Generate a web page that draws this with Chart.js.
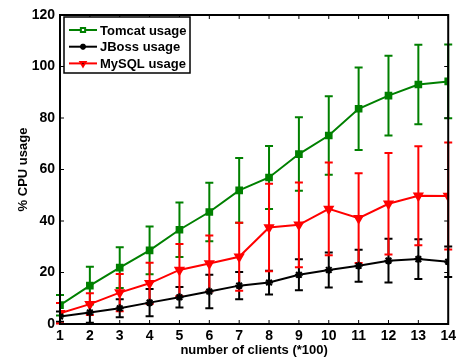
<!DOCTYPE html>
<html lang="en">
<head>
  <meta charset="UTF-8">
  <title>CPU usage vs number of clients</title>
  <script src="https://cdn.jsdelivr.net/npm/chart.js"></script>
  <style>
    html, body { margin: 0; padding: 0; background: #fff; }
  </style>
</head>
<body>
  <canvas id="cpuChart" width="460" height="358"></canvas>

  <script>
    // x values (number of clients, *100)
    const clients = [1, 2, 3, 4, 5, 6, 7, 8, 9, 10, 11, 12, 13, 14];

    // mean CPU usage (%) and error bar half-widths
    const tomcatUsage = [7.3, 14.9, 21.9, 28.6, 36.6, 43.5, 51.9, 56.9, 66.0, 73.2, 83.6, 88.7, 93.0, 94.2];
    const tomcatErr   = [4.0, 7.3, 7.9, 9.3, 10.6, 11.4, 12.6, 12.2, 14.3, 15.2, 16.0, 15.5, 15.4, 14.3];

    const jbossUsage  = [2.9, 4.5, 6.1, 8.3, 10.4, 12.6, 14.9, 16.1, 19.1, 21.0, 22.6, 24.6, 25.2, 24.2];
    const jbossErr    = [2.0, 4.0, 3.5, 5.3, 4.0, 6.5, 5.3, 4.6, 6.0, 6.8, 6.2, 8.5, 7.7, 5.9];

    const mysqlUsage  = [4.2, 7.7, 12.2, 15.8, 21.0, 23.5, 26.1, 37.5, 38.5, 44.7, 41.1, 46.7, 49.8, 49.7];
    const mysqlErr    = [4.0, 4.2, 7.2, 8.0, 10.1, 10.9, 13.2, 17.0, 16.5, 18.0, 17.4, 19.7, 19.2, 20.8];

    const yTicks = [0, 20, 40, 60, 80, 100, 120];

    const FONT = '"Liberation Sans", Arial, sans-serif';

    function points(values) {
      return clients.map((c, i) => ({ x: c, y: values[i] }));
    }

    // draws error bars, the boxed frame with inward ticks, and the legend
    const matlabStyle = {
      id: 'matlabStyle',
      beforeDatasetsDraw(chart) {
        const ctx = chart.ctx;
        const xs = chart.scales.x, ys = chart.scales.y;
        ctx.save();
        chart.data.datasets.forEach(ds => {
          ctx.strokeStyle = ds.borderColor;
          ctx.lineWidth = 2;
          ds.data.forEach((p, i) => {
            const e = ds.errors[i];
            const px = xs.getPixelForValue(p.x);
            const top = ys.getPixelForValue(p.y + e);
            const bot = ys.getPixelForValue(Math.max(p.y - e, 0));
            ctx.beginPath();
            ctx.moveTo(px, top); ctx.lineTo(px, bot);
            ctx.moveTo(px - 4, top); ctx.lineTo(px + 4, top);
            if (p.y - e > 0) { ctx.moveTo(px - 4, bot); ctx.lineTo(px + 4, bot); }
            ctx.stroke();
          });
        });
        ctx.restore();
      },
      afterDatasetsDraw(chart) {
        const ctx = chart.ctx;
        const a = chart.chartArea;
        const xs = chart.scales.x, ys = chart.scales.y;
        ctx.save();
        ctx.strokeStyle = '#000';
        ctx.lineWidth = 2;
        ctx.strokeRect(a.left, a.top, a.right - a.left, a.bottom - a.top);

        // inward ticks on all four sides
        ctx.lineWidth = 1;
        ctx.beginPath();
        clients.forEach(c => {
          const px = xs.getPixelForValue(c);
          ctx.moveTo(px, a.bottom); ctx.lineTo(px, a.bottom - 4);
          ctx.moveTo(px, a.top); ctx.lineTo(px, a.top + 4);
        });
        yTicks.forEach(v => {
          const py = ys.getPixelForValue(v);
          ctx.moveTo(a.left, py); ctx.lineTo(a.left + 4, py);
          ctx.moveTo(a.right, py); ctx.lineTo(a.right - 4, py);
        });
        ctx.stroke();

        // legend box
        const lx = a.left + 4, ly = a.top + 2, lw = 126, lh = 56;
        ctx.fillStyle = '#fff';
        ctx.fillRect(lx, ly, lw, lh);
        ctx.lineWidth = 1.5;
        ctx.strokeRect(lx, ly, lw, lh);

        chart.data.datasets.forEach((ds, i) => {
          const ry = ly + 13 + i * 16.7;
          ctx.strokeStyle = ds.borderColor;
          ctx.lineWidth = 2;
          ctx.beginPath();
          ctx.moveTo(lx + 5, ry); ctx.lineTo(lx + 33, ry);
          ctx.stroke();
          Chart.helpers.drawPoint(ctx, {
            pointStyle: ds.pointStyle,
            radius: 3,
            rotation: ds.pointRotation || 0,
            borderWidth: 1.5
          }, lx + 19, ry);
          ctx.fillStyle = '#000';
          ctx.font = 'bold 13px ' + FONT;
          ctx.textBaseline = 'middle';
          ctx.fillText(ds.label, lx + 36, ry + 1);
        });
        ctx.restore();
      }
    };

    new Chart(document.getElementById('cpuChart'), {
      type: 'line',
      data: {
        datasets: [
          {
            label: 'Tomcat usage',
            data: points(tomcatUsage),
            errors: tomcatErr,
            borderColor: '#008000',
            backgroundColor: '#008000',
            pointStyle: 'rect',
            pointRadius: 4,
            borderWidth: 2
          },
          {
            label: 'JBoss usage',
            data: points(jbossUsage),
            errors: jbossErr,
            borderColor: '#000000',
            backgroundColor: '#000000',
            pointStyle: 'star',
            pointRadius: 4,
            borderWidth: 2
          },
          {
            label: 'MySQL usage',
            data: points(mysqlUsage),
            errors: mysqlErr,
            borderColor: '#ff0000',
            backgroundColor: '#ff0000',
            pointStyle: 'triangle',
            pointRotation: 180,
            pointRadius: 4.5,
            borderWidth: 2
          }
        ]
      },
      options: {
        responsive: false,
        animation: false,
        layout: { padding: { top: 15, right: 8, left: 0, bottom: 0 } },
        elements: { line: { tension: 0 }, point: { borderWidth: 1.5 } },
        plugins: { legend: { display: false }, tooltip: { enabled: false } },
        scales: {
          x: {
            type: 'linear',
            min: 1,
            max: 14,
            afterFit: s => { s.height = 34; },
            afterBuildTicks: s => { s.ticks = clients.map(v => ({ value: v })); },
            grid: { display: false, drawTicks: false },
            border: { display: false },
            ticks: { color: '#000', padding: 4, font: { family: FONT, size: 14, weight: 'bold' } },
            title: {
              display: true,
              text: 'number of clients (*100)',
              color: '#000',
              padding: { top: 0, bottom: 0 },
              font: { family: FONT, size: 13, weight: 'bold' }
            }
          },
          y: {
            min: 0,
            max: 120,
            afterFit: s => { s.width = 60; },
            afterBuildTicks: s => { s.ticks = yTicks.map(v => ({ value: v })); },
            grid: { display: false, drawTicks: false },
            border: { display: false },
            ticks: { color: '#000', padding: 5, font: { family: FONT, size: 14, weight: 'bold' } },
            title: {
              display: true,
              text: '% CPU usage',
              color: '#000',
              padding: { top: 16, bottom: 0 },
              font: { family: FONT, size: 13, weight: 'bold' }
            }
          }
        }
      },
      plugins: [matlabStyle]
    });
  </script>
</body>
</html>
